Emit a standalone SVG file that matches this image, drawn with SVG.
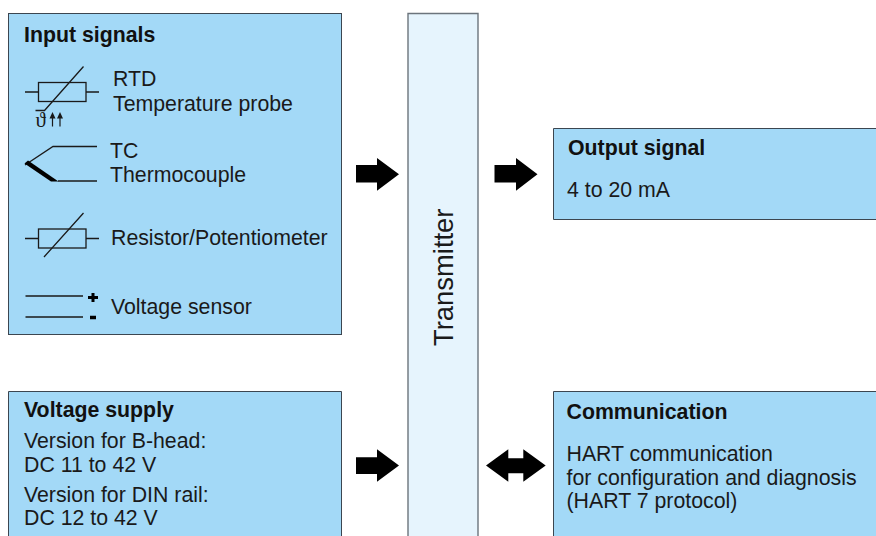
<svg xmlns="http://www.w3.org/2000/svg" width="876" height="536" viewBox="0 0 876 536">
<style>
text{font-family:"Liberation Sans",Arial,sans-serif;font-size:21.3px;fill:#1a1a1a}
.b{font-weight:bold;fill:#111}
.box{fill:#a3d9f7;stroke:#3c4650;stroke-width:1}
.tr{fill:#e6f4fd;stroke:#6c747c;stroke-width:1.4}
.l{fill:none;stroke:#1a1a1a;stroke-width:1.3}
.arrow{fill:#000}
</style>
<rect width="876" height="536" fill="#fff"/>
<g id="input-signals">
<rect class="box" x="8.500" y="13.500" width="333" height="321"/>
<text class="b" x="24" y="42">Input signals</text>
<g id="rtd">
<rect class="l" x="38.500" y="82.500" width="47.500" height="19"/>
<path class="l" d="M25 92H38.500M86 92H99M35.500 110.500H44.500L83.500 66.500"/>
<text x="35.500" y="127" style="font-size:21px;font-family:'Liberation Serif',serif">ϑ</text>
<path d="M52.500 112L49.500 118.500H51.900V126.500H53.100V118.500H55.500ZM60 112L57 118.500H59.400V126.500H60.600V118.500H63Z" fill="#1a1a1a"/>
<text x="113" y="86">RTD</text>
<text x="113" y="111">Temperature probe</text>
</g>
<g id="tc">
<path class="l" d="M97 146.500H53L25 165"/>
<path class="l" d="M58 181H97"/>
<path d="M24.500 163.500L28 160.500L58.500 181.500H51Z" fill="#000"/>
<text x="110" y="158">TC</text>
<text x="110" y="182">Thermocouple</text>
</g>
<g id="resistor">
<rect class="l" x="38.500" y="229" width="47.500" height="19"/>
<path class="l" d="M25 238.500H38.500M86 238.500H99M44 257L83.500 213"/>
<text x="111" y="245">Resistor/Potentiometer</text>
</g>
<g id="voltage-sensor">
<path class="l" d="M25.500 296H83M25.500 317H83"/>
<path d="M91.500 293H94.500V296H98V299H94.500V302H91.500V299H88V296H91.500ZM90 315.700H96V319.300H90Z" fill="#000"/>
<text x="111" y="314">Voltage sensor</text>
</g>
</g>
<g id="voltage-supply">
<path class="box" d="M8.500 536V391.500H341.500V536"/>
<text class="b" x="24" y="417">Voltage supply</text>
<text x="24" y="448">Version for B-head:</text>
<text x="24" y="472">DC 11 to 42 V</text>
<text x="24" y="502">Version for DIN rail:</text>
<text x="24" y="525">DC 12 to 42 V</text>
</g>
<g id="transmitter">
<path class="tr" d="M408 536V13.500H478V536"/>
<text transform="translate(453 346) rotate(-90)" style="font-size:27.400px">Transmitter</text>
</g>
<g id="output-signal">
<path class="box" d="M877 128.500H553.500V219.500H877"/>
<text class="b" x="568" y="155">Output signal</text>
<text x="567" y="197">4 to 20 mA</text>
</g>
<g id="communication">
<path class="box" d="M877 391.500H553.500V537H877"/>
<text class="b" x="566.500" y="419">Communication</text>
<text x="566.500" y="461">HART communication</text>
<text x="566.500" y="485">for configuration and diagnosis</text>
<text x="566.500" y="508">(HART 7 protocol)</text>
</g>
<g id="connectors">
<path class="arrow" d="M356 165H377V158L399 174.300L377 190.700V182.500H356Z"/>
<path class="arrow" d="M494.500 165H516V158L537.500 174.300L516 190.700V182.500H494.500Z"/>
<path class="arrow" d="M356 457.300H377V449.300L399 465.600L377 481.800V474H356Z"/>
<path class="arrow" d="M486 465.600L508.300 449.300V458.300H523.300V449.300L545.700 465.600L523.300 481.800V473.300H508.300V481.800Z"/>
</g>
</svg>
